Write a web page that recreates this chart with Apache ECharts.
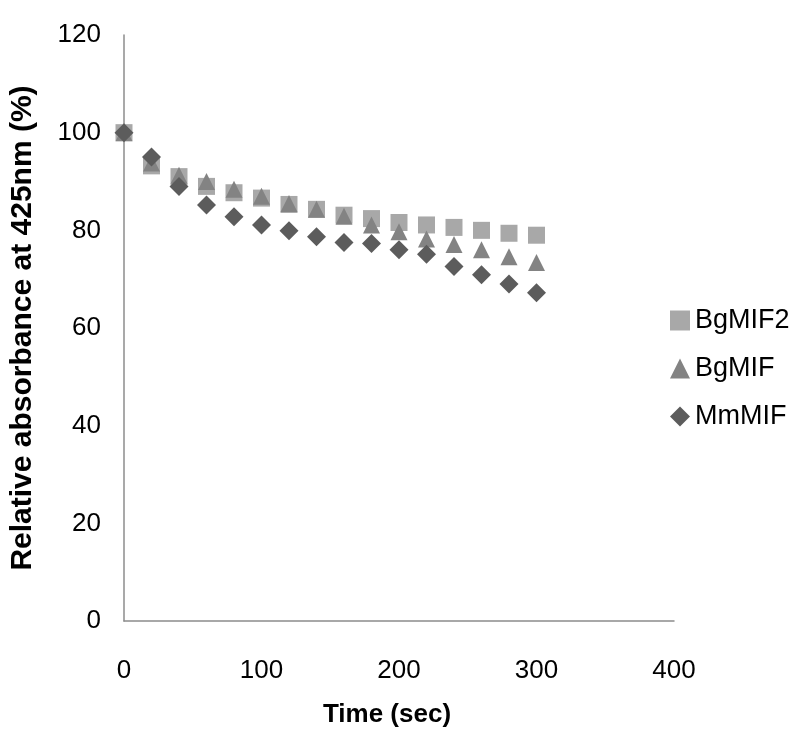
<!DOCTYPE html>
<html>
<head>
<meta charset="utf-8">
<script src="https://cdn.jsdelivr.net/npm/echarts@6/dist/echarts.min.js"></script>
<style>
  html, body { margin: 0; padding: 0; background: #fff; }
  #chart { width: 793px; height: 733px; }
</style>
</head>
<body>
<div id="chart"></div>
<script>
// time points (sec)
const times = [0, 20, 40, 60, 80, 100, 120, 140, 160, 180, 200, 220, 240, 260, 280, 300];
// relative absorbance at 425nm (%)
const bgMIF2 = [100, 93.2, 91, 89, 87.7, 86.6, 85.3, 84.3, 83.1, 82.4, 81.6, 81.1, 80.6, 80, 79.4, 79];
const bgMIF = [100, 93.8, 91.3, 90, 88.4, 87, 85.5, 84.3, 82.9, 81.1, 79.7, 78.2, 77.1, 76, 74.6, 73.4];
const mmMIF = [100, 95, 89, 85.2, 82.8, 81.1, 79.9, 78.7, 77.5, 77.3, 76, 75.1, 72.6, 70.9, 69, 67.2];
const xTicks = [0, 100, 200, 300, 400];
const yTicks = [0, 20, 40, 60, 80, 100, 120];

const toPairs = arr => times.map((t, i) => [t, arr[i]]);

const chart = echarts.init(document.getElementById('chart'));

const font = 'Liberation Sans, Arial, sans-serif';

const option = {
  animation: false,
  grid: { left: 124, top: 35, right: 119, bottom: 112 },
  legend: {
    orient: 'vertical',
    left: 665,
    top: 302,
    itemGap: 21,
    itemWidth: 20,
    itemHeight: 20,
    textStyle: { fontFamily: font, fontSize: 27, color: '#000' },
    data: [
      { name: 'BgMIF2', icon: 'rect' },
      { name: 'BgMIF', icon: 'triangle' },
      { name: 'MmMIF', icon: 'diamond' }
    ]
  },
  xAxis: {
    type: 'value',
    min: xTicks[0],
    max: xTicks[xTicks.length - 1],
    interval: 100,
    name: 'Time (sec)',
    nameLocation: 'middle',
    nameGap: 81,
    nameTextStyle: { fontFamily: font, fontSize: 26, fontWeight: 'bold', color: '#000', padding: [0, 24, 0, 0] },
    axisLine: { lineStyle: { color: '#8c8c8c', width: 1.5 } },
    axisTick: { show: false },
    splitLine: { show: false },
    axisLabel: { fontFamily: font, fontSize: 26, color: '#000', margin: 37 }
  },
  yAxis: {
    type: 'value',
    min: yTicks[0],
    max: yTicks[yTicks.length - 1],
    interval: 20,
    name: 'Relative absorbance at 425nm (%)',
    nameLocation: 'middle',
    nameGap: 86,
    nameTextStyle: { fontFamily: font, fontSize: 30, fontWeight: 'bold', color: '#000' },
    axisLine: { show: true, lineStyle: { color: '#8c8c8c', width: 1.5 } },
    axisTick: { show: false },
    splitLine: { show: false },
    axisLabel: { fontFamily: font, fontSize: 26, color: '#000', margin: 23 }
  },
  series: [
    {
      name: 'BgMIF2',
      type: 'scatter',
      symbol: 'rect',
      symbolSize: 17,
      itemStyle: { color: '#a8a8a8', opacity: 1 },
      data: toPairs(bgMIF2)
    },
    {
      name: 'BgMIF',
      type: 'scatter',
      symbol: 'triangle',
      symbolSize: 17,
      itemStyle: { color: '#838383', opacity: 1 },
      data: toPairs(bgMIF)
    },
    {
      name: 'MmMIF',
      type: 'scatter',
      symbol: 'diamond',
      symbolSize: 19,
      itemStyle: { color: '#5c5c5c', opacity: 1 },
      data: toPairs(mmMIF)
    }
  ]
};

chart.setOption(option);
</script>
</body>
</html>
